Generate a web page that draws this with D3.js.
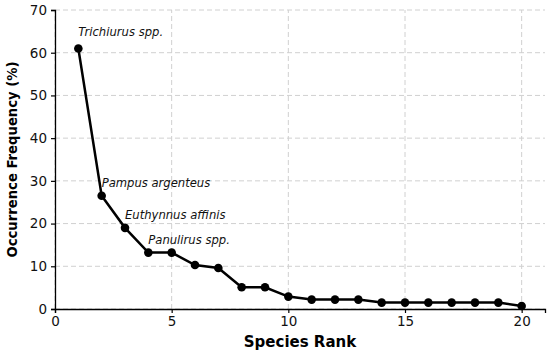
<!DOCTYPE html>
<html>
<head>
<meta charset="utf-8">
<script src="https://cdn.jsdelivr.net/npm/d3@7"></script>
<style>
  body { margin: 0; background: #fff; }
  svg { display: block; font-family: "DejaVu Sans", sans-serif; }
</style>
</head>
<body>
<div id="chart"></div>
<script>
// species rank vs occurrence frequency (%)
const ranks = [1, 2, 3, 4, 5, 6, 7, 8, 9, 10, 11, 12, 13, 14, 15, 16, 17, 18, 19, 20];
const freq = [61, 26.5, 19, 13.2, 13.2, 10.3, 9.6, 5.1, 5.1, 2.9, 2.2, 2.2, 2.2, 1.5, 1.5, 1.5, 1.5, 1.5, 1.5, 0.7];
const labelRanks = [1, 2, 3, 4];
const labelNames = ["Trichiurus spp.", "Pampus argenteus", "Euthynnus affinis", "Panulirus spp."];
const xTicks = [0, 5, 10, 15, 20];
const yTicks = [0, 10, 20, 30, 40, 50, 60, 70];

const width = 550, height = 354;
const margin = { top: 10, right: 5, bottom: 45, left: 55 };

const svg = d3.select("#chart").append("svg")
    .attr("width", width)
    .attr("height", height);

const x = d3.scaleLinear().domain([0, 21]).range([margin.left, width - margin.right]);
const y = d3.scaleLinear().domain([0, 70]).range([height - margin.bottom, margin.top]);

// grid
svg.append("g").selectAll("line").data(xTicks).enter().append("line")
    .attr("x1", d => x(d)).attr("x2", d => x(d))
    .attr("y1", y(0)).attr("y2", y(70))
    .attr("stroke", "#d0d0d0").attr("stroke-width", 1).attr("stroke-dasharray", "5,3");
svg.append("g").selectAll("line").data(yTicks).enter().append("line")
    .attr("x1", x(0)).attr("x2", x(21))
    .attr("y1", d => y(d)).attr("y2", d => y(d))
    .attr("stroke", "#d0d0d0").attr("stroke-width", 1).attr("stroke-dasharray", "5,3");

// axes
const xAxis = svg.append("g")
    .attr("transform", `translate(0,${y(0)})`)
    .call(d3.axisBottom(x).tickValues(xTicks).tickSizeOuter(0).tickSize(4).tickPadding(3));
const yAxis = svg.append("g")
    .attr("transform", `translate(${x(0)},0)`)
    .call(d3.axisLeft(y).tickValues(yTicks).tickSizeOuter(0).tickSize(4).tickPadding(4));
[xAxis, yAxis].forEach(g => {
    g.selectAll("text").style("font-size", "13.5px").style("font-family", "DejaVu Sans").attr("fill", "#111");
    g.select(".domain").attr("stroke-width", 1.3);
    g.selectAll(".tick line").attr("stroke-width", 1.2);
});

// line + markers
const data = ranks.map((r, i) => ({ r: r, v: freq[i] }));
svg.append("path")
    .datum(data)
    .attr("fill", "none")
    .attr("stroke", "#000")
    .attr("stroke-width", 2.5)
    .attr("d", d3.line().x(d => x(d.r)).y(d => y(d.v)));
svg.selectAll(".dot").data(data).enter().append("circle")
    .attr("cx", d => x(d.r)).attr("cy", d => y(d.v)).attr("r", 4.3).attr("fill", "#000");

// annotations
svg.selectAll(".ann").data(labelRanks).enter().append("text")
    .attr("x", d => x(d))
    .attr("y", (d, i) => y(freq[d - 1]) - (i === 0 ? 12 : 9))
    .attr("font-size", "11.6px")
    .attr("font-style", "italic")
    .attr("fill", "#111")
    .text((d, i) => labelNames[i]);

// axis titles
svg.append("text")
    .attr("x", (x(0) + x(21)) / 2)
    .attr("y", 347)
    .attr("text-anchor", "middle")
    .attr("font-size", "15px")
    .attr("font-weight", "bold")
    .text("Species Rank");
svg.append("text")
    .attr("transform", `translate(17,${(y(0) + y(70)) / 2}) rotate(-90)`)
    .attr("text-anchor", "middle")
    .attr("font-size", "13.2px")
    .attr("font-weight", "bold")
    .text("Occurrence Frequency (%)");
</script>
</body>
</html>
